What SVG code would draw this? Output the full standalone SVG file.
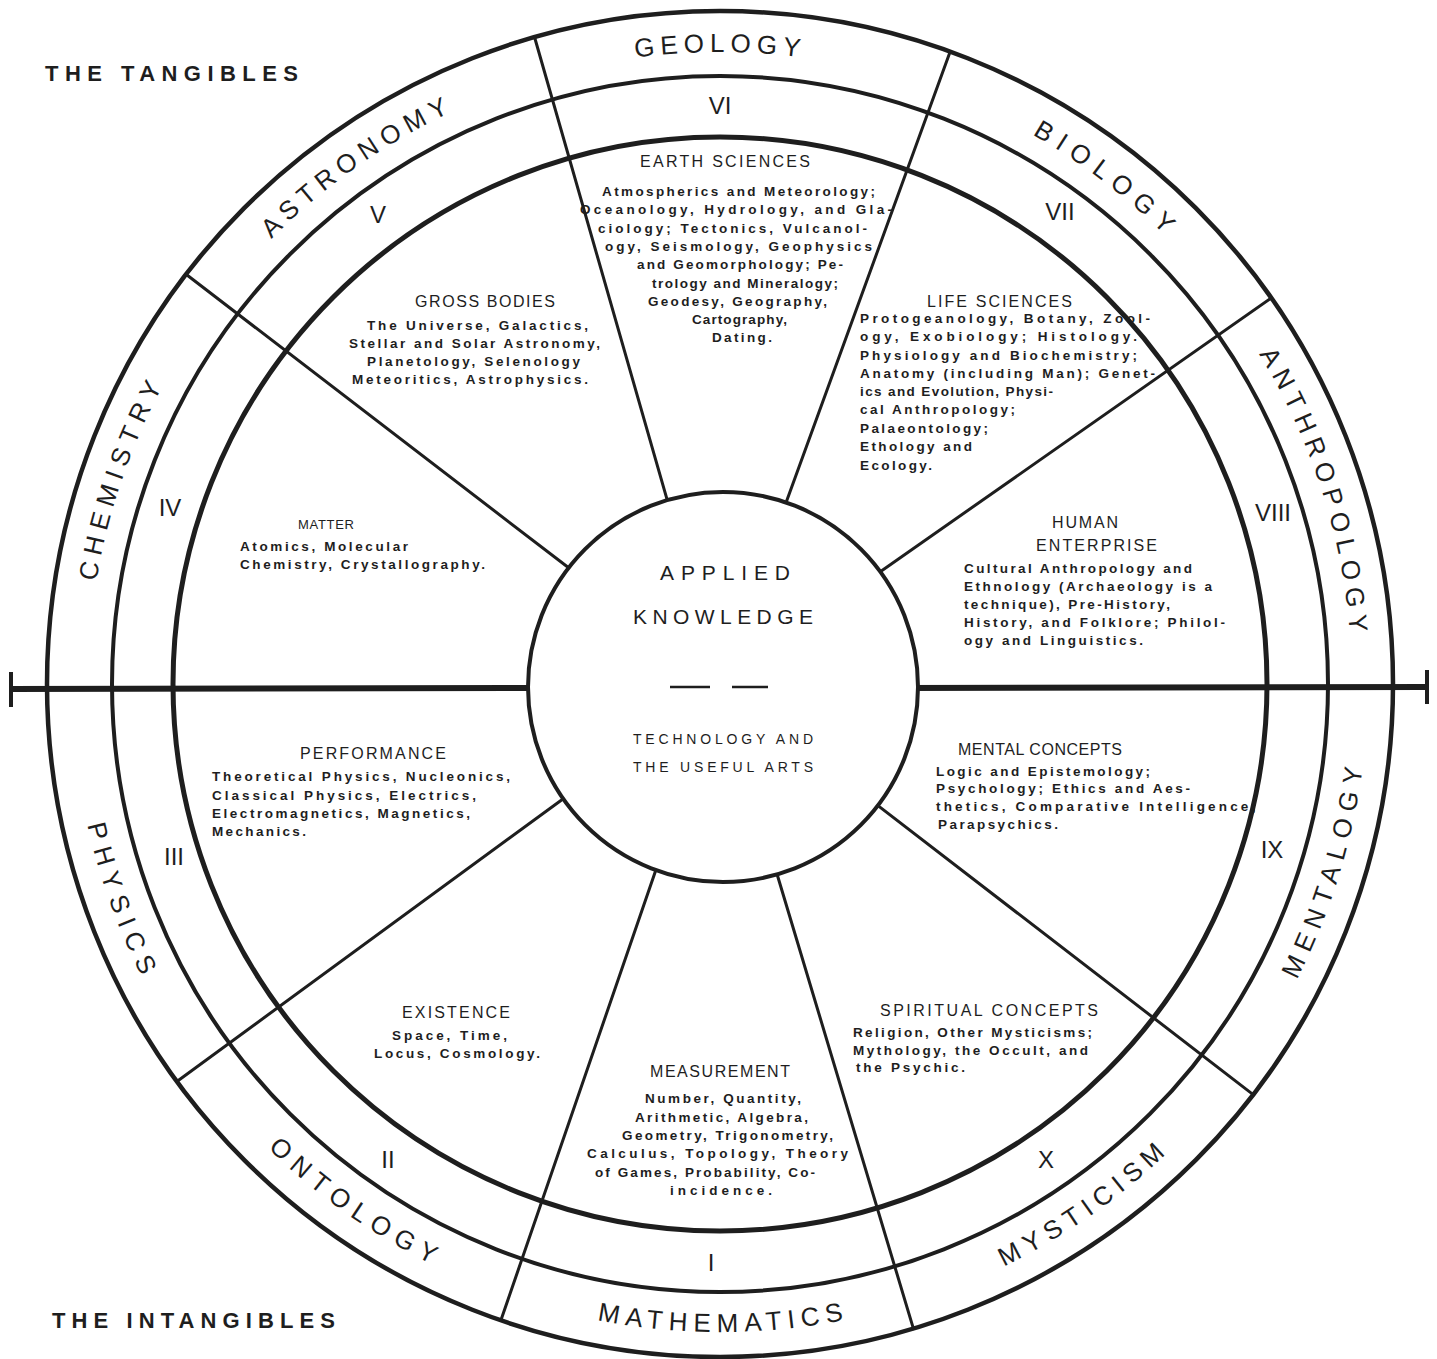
<svg xmlns="http://www.w3.org/2000/svg" width="1437" height="1359" viewBox="0 0 1437 1359">
<style>
.ring{fill:none;stroke:#1e1e1e}
.spoke{stroke:#1e1e1e;stroke-width:3;stroke-linecap:round}
text{font-family:"Liberation Sans",Arial,sans-serif;fill:#1e1e1e}
.name{font-size:26px}
.num{font-size:24px;text-anchor:middle}
.head{font-size:16px}
.body{font-size:13.5px;font-weight:bold}
.ctr{font-size:21px}
.ctr2{font-size:14px}
.corner{font-size:22px;font-weight:bold}
</style>
<defs>
<path id="topArc" d="M720,1316 A632,632 0 0 1 720,52 A632,632 0 0 1 720,1316"/>
<path id="botArc" d="M720,36 A648,648 0 0 0 720,1332 A648,648 0 0 0 720,36"/>
</defs>
<rect width="1437" height="1359" fill="#ffffff"/>

<g id="rings">
<circle class="ring" cx="720" cy="684" r="673" stroke-width="4.5"/>
<circle class="ring" cx="720" cy="684" r="608" stroke-width="4"/>
<circle class="ring" cx="720" cy="684" r="547" stroke-width="5"/>
</g>

<g id="connectors">
<line class="spoke" x1="667.6" y1="501.4" x2="534.5" y2="37"/>
<line class="spoke" x1="785" y1="505.5" x2="950.2" y2="51.6"/>
<line class="spoke" x1="875.6" y1="575" x2="1271.3" y2="298"/>
<line class="spoke" x1="870.5" y1="799.9" x2="1253.2" y2="1094.6"/>
<line class="spoke" x1="774.6" y1="866" x2="913.4" y2="1328.6"/>
<line class="spoke" x1="658.1" y1="863.6" x2="500.9" y2="1320.3"/>
<line class="spoke" x1="566.7" y1="796.2" x2="176.9" y2="1081.5"/>
<line class="spoke" x1="569.3" y1="568.3" x2="186" y2="274.3"/>
<line x1="10" y1="689" x2="540" y2="688" stroke="#1e1e1e" stroke-width="6"/>
<line x1="905" y1="688" x2="1427" y2="687" stroke="#1e1e1e" stroke-width="6"/>
<line x1="11" y1="672" x2="11" y2="707" stroke="#1e1e1e" stroke-width="4"/>
<line x1="1427" y1="670" x2="1427" y2="704" stroke="#1e1e1e" stroke-width="4"/>
</g>

<g id="center">
<circle cx="723" cy="687" r="195" fill="#ffffff" stroke="#1e1e1e" stroke-width="4"/>
<text class="ctr" x="660" y="580" textLength="130" lengthAdjust="spacing">APPLIED</text>
<text class="ctr" x="633" y="624" textLength="180" lengthAdjust="spacing">KNOWLEDGE</text>
<line x1="670" y1="687" x2="710" y2="687" stroke="#1e1e1e" stroke-width="2.5"/>
<line x1="732" y1="687" x2="768" y2="687" stroke="#1e1e1e" stroke-width="2.5"/>
<text class="ctr2" x="633" y="744" textLength="180" lengthAdjust="spacing">TECHNOLOGY AND</text>
<text class="ctr2" x="633" y="772" textLength="180" lengthAdjust="spacing">THE USEFUL ARTS</text>
</g>

<g id="names">
<text class="name" letter-spacing="5.8" text-anchor="middle"><textPath href="#topArc" startOffset="1985.5">GEOLOGY</textPath></text>
<text class="name" letter-spacing="8.2" text-anchor="middle"><textPath href="#topArc" startOffset="2399.1">BIOLOGY</textPath></text>
<text class="name" letter-spacing="6.9" text-anchor="middle"><textPath href="#topArc" startOffset="2782">ANTHROPOLOGY</textPath></text>
<text class="name" letter-spacing="6.75" text-anchor="middle"><textPath href="#topArc" startOffset="1202.3">CHEMISTRY</textPath></text>
<text class="name" letter-spacing="6.5" text-anchor="middle"><textPath href="#topArc" startOffset="1599.4">ASTRONOMY</textPath></text>
<text class="name" letter-spacing="7.7" text-anchor="middle"><textPath href="#botArc" startOffset="2861.4">MENTALOGY</textPath></text>
<text class="name" letter-spacing="6.7" text-anchor="middle"><textPath href="#botArc" startOffset="2431.6">MYSTICISM</textPath></text>
<text class="name" letter-spacing="6.3" text-anchor="middle"><textPath href="#botArc" startOffset="2039.1">MATHEMATICS</textPath></text>
<text class="name" letter-spacing="7.8" text-anchor="middle"><textPath href="#botArc" startOffset="1639.9">ONTOLOGY</textPath></text>
<text class="name" letter-spacing="7.8" text-anchor="middle"><textPath href="#botArc" startOffset="1244.1">PHYSICS</textPath></text>
</g>

<g id="numerals">
<text class="num" x="720" y="114">VI</text>
<text class="num" x="1060" y="220">VII</text>
<text class="num" x="1273" y="521">VIII</text>
<text class="num" x="1272" y="858">IX</text>
<text class="num" x="1046" y="1168">X</text>
<text class="num" x="711" y="1271">I</text>
<text class="num" x="388" y="1168">II</text>
<text class="num" x="174" y="865">III</text>
<text class="num" x="170" y="516">IV</text>
<text class="num" x="378" y="223">V</text>
</g>

<g id="sector-V">
<text class="head" x="415" y="307" textLength="140" lengthAdjust="spacing">GROSS BODIES</text>
<text class="body" x="367" y="330" textLength="221" lengthAdjust="spacing">The Universe, Galactics,</text>
<text class="body" x="349" y="348" textLength="251" lengthAdjust="spacing">Stellar and Solar Astronomy,</text>
<text class="body" x="367" y="366" textLength="213" lengthAdjust="spacing">Planetology, Selenology</text>
<text class="body" x="352" y="384" textLength="236" lengthAdjust="spacing">Meteoritics, Astrophysics.</text>
</g>

<g id="sector-VI">
<text class="head" x="640" y="167" textLength="170" lengthAdjust="spacing">EARTH SCIENCES</text>
<text class="body" x="602" y="196" textLength="273" lengthAdjust="spacing">Atmospherics and Meteorology;</text>
<text class="body" x="580" y="214" textLength="312" lengthAdjust="spacing">Oceanology, Hydrology, and Gla-</text>
<text class="body" x="598" y="233" textLength="269" lengthAdjust="spacing">ciology; Tectonics, Vulcanol-</text>
<text class="body" x="605" y="251" textLength="267" lengthAdjust="spacing">ogy, Seismology, Geophysics</text>
<text class="body" x="637" y="269" textLength="206" lengthAdjust="spacing">and Geomorphology; Pe-</text>
<text class="body" x="652" y="288" textLength="186" lengthAdjust="spacing">trology and Mineralogy;</text>
<text class="body" x="648" y="306" textLength="179" lengthAdjust="spacing">Geodesy, Geography,</text>
<text class="body" x="692" y="324" textLength="95" lengthAdjust="spacing">Cartography,</text>
<text class="body" x="712" y="342" textLength="60" lengthAdjust="spacing">Dating.</text>
</g>

<g id="sector-VII">
<text class="head" x="927" y="307" textLength="145" lengthAdjust="spacing">LIFE SCIENCES</text>
<text class="body" x="860" y="323" textLength="290" lengthAdjust="spacing">Protogeanology, Botany, Zool-</text>
<text class="body" x="860" y="341" textLength="277" lengthAdjust="spacing">ogy, Exobiology; Histology.</text>
<text class="body" x="860" y="360" textLength="277" lengthAdjust="spacing">Physiology and Biochemistry;</text>
<text class="body" x="860" y="378" textLength="295" lengthAdjust="spacing">Anatomy (including Man); Genet-</text>
<text class="body" x="860" y="396" textLength="193" lengthAdjust="spacing">ics and Evolution, Physi-</text>
<text class="body" x="860" y="414" textLength="155" lengthAdjust="spacing">cal Anthropology;</text>
<text class="body" x="860" y="433" textLength="128" lengthAdjust="spacing">Palaeontology;</text>
<text class="body" x="860" y="451" textLength="112" lengthAdjust="spacing">Ethology and</text>
<text class="body" x="860" y="470" textLength="72" lengthAdjust="spacing">Ecology.</text>
</g>

<g id="sector-VIII">
<text class="head" x="1052" y="528" textLength="66" lengthAdjust="spacing">HUMAN</text>
<text class="head" x="1036" y="551" textLength="121" lengthAdjust="spacing">ENTERPRISE</text>
<text class="body" x="964" y="573" textLength="228" lengthAdjust="spacing">Cultural Anthropology and</text>
<text class="body" x="964" y="591" textLength="248" lengthAdjust="spacing">Ethnology (Archaeology is a</text>
<text class="body" x="964" y="609" textLength="206" lengthAdjust="spacing">technique), Pre-History,</text>
<text class="body" x="964" y="627" textLength="261" lengthAdjust="spacing">History, and Folklore; Philol-</text>
<text class="body" x="964" y="645" textLength="179" lengthAdjust="spacing">ogy and Linguistics.</text>
</g>

<g id="sector-IV">
<text class="head" x="298" y="529" textLength="56" lengthAdjust="spacing" style="font-size:13px">MATTER</text>
<text class="body" x="240" y="551" textLength="168" lengthAdjust="spacing">Atomics, Molecular</text>
<text class="body" x="240" y="569" textLength="245" lengthAdjust="spacing">Chemistry, Crystallography.</text>
</g>

<g id="sector-III">
<text class="head" x="300" y="759" textLength="146" lengthAdjust="spacing">PERFORMANCE</text>
<text class="body" x="212" y="781" textLength="298" lengthAdjust="spacing">Theoretical Physics, Nucleonics,</text>
<text class="body" x="212" y="800" textLength="264" lengthAdjust="spacing">Classical Physics, Electrics,</text>
<text class="body" x="212" y="818" textLength="258" lengthAdjust="spacing">Electromagnetics, Magnetics,</text>
<text class="body" x="212" y="836" textLength="94" lengthAdjust="spacing">Mechanics.</text>
</g>

<g id="sector-IX">
<text class="head" x="958" y="755" textLength="164" lengthAdjust="spacing">MENTAL CONCEPTS</text>
<text class="body" x="936" y="776" textLength="214" lengthAdjust="spacing">Logic and Epistemology;</text>
<text class="body" x="936" y="793" textLength="254" lengthAdjust="spacing">Psychology; Ethics and Aes-</text>
<text class="body" x="936" y="811" textLength="320" lengthAdjust="spacing">thetics, Comparative Intelligence;</text>
<text class="body" x="938" y="829" textLength="120" lengthAdjust="spacing">Parapsychics.</text>
</g>

<g id="sector-X">
<text class="head" x="880" y="1016" textLength="218" lengthAdjust="spacing">SPIRITUAL CONCEPTS</text>
<text class="body" x="853" y="1037" textLength="239" lengthAdjust="spacing">Religion, Other Mysticisms;</text>
<text class="body" x="853" y="1055" textLength="235" lengthAdjust="spacing">Mythology, the Occult, and</text>
<text class="body" x="856" y="1072" textLength="109" lengthAdjust="spacing">the Psychic.</text>
</g>

<g id="sector-I">
<text class="head" x="650" y="1077" textLength="140" lengthAdjust="spacing">MEASUREMENT</text>
<text class="body" x="645" y="1103" textLength="156" lengthAdjust="spacing">Number, Quantity,</text>
<text class="body" x="635" y="1122" textLength="173" lengthAdjust="spacing">Arithmetic, Algebra,</text>
<text class="body" x="622" y="1140" textLength="211" lengthAdjust="spacing">Geometry, Trigonometry,</text>
<text class="body" x="587" y="1158" textLength="261" lengthAdjust="spacing">Calculus, Topology, Theory</text>
<text class="body" x="595" y="1177" textLength="220" lengthAdjust="spacing">of Games, Probability, Co-</text>
<text class="body" x="670" y="1195" textLength="102" lengthAdjust="spacing">incidence.</text>
</g>

<g id="sector-II">
<text class="head" x="402" y="1018" textLength="108" lengthAdjust="spacing">EXISTENCE</text>
<text class="body" x="392" y="1040" textLength="115" lengthAdjust="spacing">Space, Time,</text>
<text class="body" x="374" y="1058" textLength="166" lengthAdjust="spacing">Locus, Cosmology.</text>
</g>

<g id="corners">
<text class="corner" x="45" y="81" textLength="253" lengthAdjust="spacing">THE TANGIBLES</text>
<text class="corner" x="52" y="1328" textLength="283" lengthAdjust="spacing">THE INTANGIBLES</text>
</g>
</svg>
